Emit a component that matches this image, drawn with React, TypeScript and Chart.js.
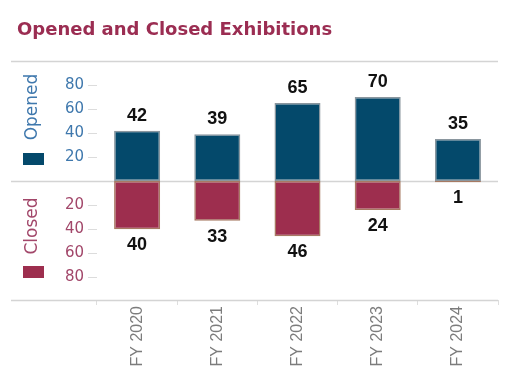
import React, { useEffect, useRef } from "react";
import { Chart, registerables } from "chart.js";

Chart.register(...registerables);

const categories = ["FY 2020", "FY 2021", "FY 2022", "FY 2023", "FY 2024"];
const openedValues = [42, 39, 65, 70, 35];
const closedValues = [40, 33, 46, 24, 1];
const tickValues = [-80, -60, -40, -20, 20, 40, 60, 80];
const titleText = "Opened and Closed Exhibitions";
const legendOpened = "Opened";
const legendClosed = "Closed";

const OPEN_COLOR = "#04496b";
const CLOSE_COLOR = "#9d2e4e";
const OPEN_TEXT = "#3f78ad";
const CLOSE_TEXT = "#a2476a";

const linesPlugin = {
  id: "hlines",
  beforeDatasetsDraw(chart: any) {
    const { ctx, chartArea, scales } = chart;
    const y = scales.y;
    ctx.save();
    ctx.strokeStyle = "#d4d4d4";
    ctx.lineWidth = 1.5;
    [y.max, 0, y.min].forEach((v: number) => {
      const py = Math.round(y.getPixelForValue(v)) + 0.5;
      ctx.beginPath();
      ctx.moveTo(11, py);
      ctx.lineTo(chartArea.right, py);
      ctx.stroke();
    });
    ctx.restore();
  },
  afterDraw(chart: any) {
    const { ctx } = chart;
    ctx.save();
    // data labels
    ctx.font = "bold 18px 'Liberation Sans', Arial, sans-serif";
    ctx.fillStyle = "#111111";
    ctx.textAlign = "center";
    ctx.textBaseline = "alphabetic";
    chart.getDatasetMeta(0).data.forEach((bar: any, i: number) => {
      ctx.fillText(String(openedValues[i]), bar.x, bar.y - 10);
    });
    chart.getDatasetMeta(1).data.forEach((bar: any, i: number) => {
      ctx.fillText(String(closedValues[i]), bar.x, bar.y + 21);
    });
    // legend
    ctx.font = "17px 'DejaVu Sans', sans-serif";
    ctx.textBaseline = "middle";
    ctx.textAlign = "center";
    const drawRot = (t: string, x: number, y: number, c: string) => {
      ctx.save();
      ctx.translate(x, y);
      ctx.rotate(-Math.PI / 2);
      ctx.fillStyle = c;
      ctx.fillText(t, 0, 0);
      ctx.restore();
    };
    drawRot(legendOpened, 33, 107, OPEN_TEXT);
    drawRot(legendClosed, 33, 226, CLOSE_TEXT);
    ctx.fillStyle = OPEN_COLOR;
    ctx.fillRect(23, 153, 21, 12);
    ctx.fillStyle = CLOSE_COLOR;
    ctx.fillRect(23, 266, 21, 12);
    ctx.restore();
  },
};

export default function App() {
  const ref = useRef<HTMLCanvasElement>(null);
  useEffect(() => {
    if (!ref.current) return;
    const chart = new Chart(ref.current, {
      type: "bar",
      data: {
        labels: categories,
        datasets: [
          {
            label: legendOpened,
            data: openedValues,
            backgroundColor: OPEN_COLOR,
            borderColor: "#8a969e",
            borderWidth: 1.5,
            borderSkipped: false,
            grouped: false,
            barPercentage: 0.574,
            categoryPercentage: 1,
          },
          {
            label: legendClosed,
            data: closedValues.map((v) => -v),
            backgroundColor: CLOSE_COLOR,
            borderColor: "#a77a63",
            borderWidth: 1.5,
            borderSkipped: false,
            grouped: false,
            barPercentage: 0.574,
            categoryPercentage: 1,
          },
        ] as any,
      },
      options: {
        animation: false,
        responsive: false,
        layout: { padding: { left: 17, right: 13, top: 0, bottom: 0 } },
        plugins: {
          legend: { display: false },
          tooltip: { enabled: false },
          title: {
            display: true,
            text: titleText,
            align: "start",
            color: "#9b2d52",
            font: { family: "'DejaVu Sans', sans-serif", size: 18, weight: "bold", lineHeight: 1.2 },
            padding: { top: 20, bottom: 19.4 },
          },
        },
        scales: {
          x: {
            grid: { offset: true, drawOnChartArea: false, tickLength: 5, color: "#dedede" },
            border: { display: false },
            ticks: {
              maxRotation: 90,
              minRotation: 90,
              autoSkip: false,
              padding: 1,
              color: "#7c7c7c",
              font: { family: "'Liberation Sans', Arial, sans-serif", size: 16 },
            },
            afterFit: (s: any) => {
              s.height = 85;
            },
          },
          y: {
            min: -99,
            max: 100,
            grid: { drawOnChartArea: false, tickLength: 9, color: "#dcdcdc" },
            border: { display: false },
            afterBuildTicks: (s: any) => {
              s.ticks = tickValues.map((v) => ({ value: v }));
            },
            afterFit: (s: any) => {
              s.width = 80;
            },
            ticks: {
              padding: 4,
              callback: (v: any) => String(Math.abs(Number(v))),
              color: (c: any) => (c.tick && c.tick.value > 0 ? OPEN_TEXT : CLOSE_TEXT),
              font: { family: "'DejaVu Sans', sans-serif", size: 15 },
            },
          },
        },
      },
      plugins: [linesPlugin],
    } as any);
    return () => chart.destroy();
  }, []);
  return (
    <div style={{ position: "fixed", left: 0, top: 0, width: 511, height: 385, background: "#fff" }}>
      <canvas ref={ref} width={511} height={385} />
    </div>
  );
}
